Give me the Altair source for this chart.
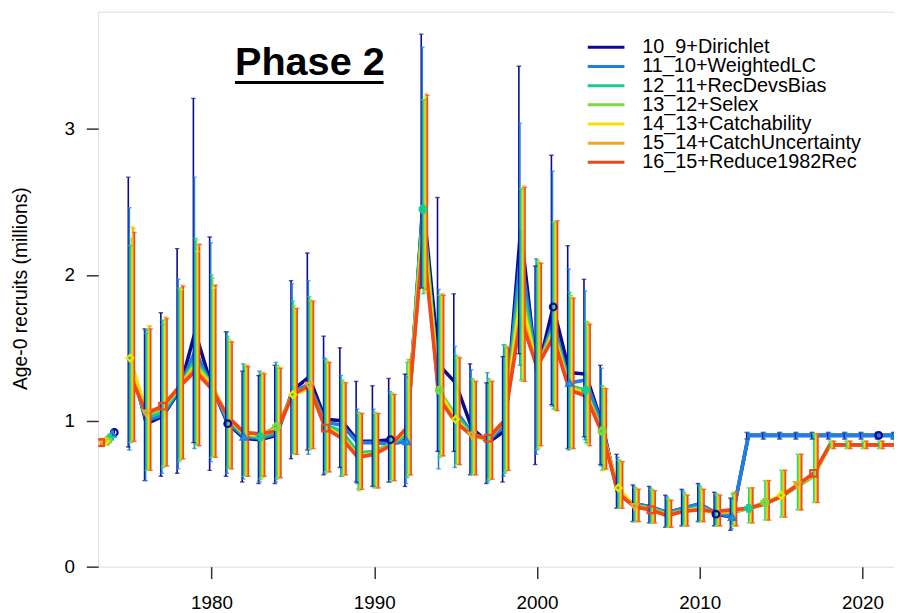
import altair as alt
import pandas as pd

series = ["10_9+Dirichlet", "11_10+WeightedLC", "12_11+RecDevsBias", "13_12+Selex",
          "14_13+Catchability", "15_14+CatchUncertainty", "16_15+Reduce1982Rec"]
colors = ["#0b0b8f", "#1f7fe3", "#14cf8c", "#7ed83e", "#f2e400", "#f5a524", "#f0481c"]
shapes = ["circle", "triangle-up", "cross", "cross", "diamond", "triangle-down", "square"]
bar_offset = [-0.11, -0.047, 0.016, 0.079, 0.142, 0.205, 0.268]
years = list(range(1975, 2023))

# virgin / initial recruitment points
virgin_x = [1974.03, 1973.89, 1973.75, 1973.61, 1973.47, 1973.33, 1973.19]
virgin_val = [0.92, 0.91, 0.88, 0.86, 0.86, 0.85, 0.85]
virgin_lo = [0.89, 0.88, 0.85, 0.83, 0.83, 0.82, 0.82]
virgin_hi = [0.95, 0.94, 0.91, 0.89, 0.89, 0.88, 0.88]

s10_val = [1.42, 0.98, 1.03, 1.20, 1.61, 1.24, 0.98, 0.88, 0.87, 0.90,
           1.21, 1.30, 1.01, 1.00, 0.86, 0.86, 0.87, 0.88, 2.50, 1.38,
           1.26, 0.95, 0.85, 0.93, 2.31, 1.32, 1.78, 1.33, 1.32, 0.98,
           0.49, 0.43, 0.41, 0.37, 0.40, 0.43, 0.36, 0.34, 0.90, 0.90,
           0.90, 0.90, 0.90, 0.90, 0.90, 0.90, 0.90, 0.90]
s10_lo = [0.82, 0.59, 0.62, 0.64, 0.85, 0.66, 0.62, 0.58, 0.57, 0.57,
          0.74, 0.80, 0.63, 0.68, 0.58, 0.55, 0.58, 0.55, 1.91, 0.79,
          0.79, 0.63, 0.57, 0.58, 1.46, 0.70, 1.11, 0.81, 0.89, 0.70,
          0.40, 0.31, 0.30, 0.27, 0.28, 0.31, 0.28, 0.25, 0.875, 0.875,
          0.875, 0.875, 0.875, 0.875, 0.875, 0.875, 0.875, 0.875]
s10_hi = [2.67, 1.63, 1.74, 2.18, 3.21, 2.26, 1.61, 1.34, 1.31, 1.38,
          1.96, 2.15, 1.58, 1.50, 1.27, 1.24, 1.29, 1.32, 3.65, 2.53,
          1.87, 1.39, 1.26, 1.44, 3.43, 2.06, 2.82, 2.20, 1.97, 1.38,
          0.77, 0.56, 0.55, 0.49, 0.53, 0.57, 0.51, 0.47, 0.92, 0.92,
          0.92, 0.92, 0.92, 0.92, 0.92, 0.92, 0.92, 0.92]

s11_val = [1.38, 1.00, 1.04, 1.21, 1.48, 1.24, 0.99, 0.89, 0.88, 0.91,
           1.20, 1.25, 0.99, 0.97, 0.85, 0.85, 0.84, 0.86, 2.48, 1.10,
           1.07, 0.92, 0.86, 0.97, 2.15, 1.34, 1.68, 1.26, 1.28, 0.97,
           0.49, 0.43, 0.41, 0.37, 0.40, 0.43, 0.37, 0.34, 0.90, 0.90,
           0.90, 0.90, 0.90, 0.90, 0.90, 0.90, 0.90, 0.90]
s11_lo = [0.80, 0.59, 0.64, 0.67, 0.81, 0.72, 0.64, 0.60, 0.58, 0.58,
          0.77, 0.77, 0.64, 0.62, 0.57, 0.55, 0.58, 0.57, 1.91, 0.67,
          0.68, 0.63, 0.58, 0.62, 1.38, 0.77, 1.10, 0.80, 0.87, 0.69,
          0.40, 0.31, 0.30, 0.27, 0.28, 0.31, 0.28, 0.26, 0.875, 0.875,
          0.875, 0.875, 0.875, 0.875, 0.875, 0.875, 0.875, 0.875]
s11_hi = [2.46, 1.62, 1.69, 1.97, 2.67, 2.22, 1.61, 1.39, 1.34, 1.40,
          1.94, 1.96, 1.43, 1.31, 1.08, 1.08, 1.20, 1.30, 3.56, 1.90,
          1.51, 1.35, 1.33, 1.52, 3.04, 2.11, 2.71, 2.04, 1.89, 1.36,
          0.75, 0.55, 0.54, 0.48, 0.52, 0.56, 0.50, 0.46, 0.92, 0.92,
          0.92, 0.92, 0.92, 0.92, 0.92, 0.92, 0.92, 0.92]

s12_val = [1.36, 1.02, 1.06, 1.22, 1.42, 1.25, 1.01, 0.90, 0.89, 0.93,
           1.19, 1.24, 0.97, 0.93, 0.78, 0.79, 0.84, 0.90, 2.45, 1.20,
           1.04, 0.91, 0.87, 0.99, 2.00, 1.35, 1.64, 1.24, 1.21, 0.94,
           0.50, 0.42, 0.40, 0.36, 0.39, 0.41, 0.37, 0.37, 0.40, 0.43,
           0.48, 0.55, 0.62, 0.835, 0.835, 0.835, 0.835, 0.835]
s12_lo = [0.85, 0.66, 0.68, 0.72, 0.84, 0.75, 0.68, 0.62, 0.60, 0.60,
          0.77, 0.80, 0.65, 0.62, 0.53, 0.54, 0.59, 0.61, 1.87, 0.75,
          0.70, 0.63, 0.59, 0.64, 1.28, 0.80, 1.08, 0.81, 0.85, 0.66,
          0.40, 0.31, 0.30, 0.27, 0.28, 0.31, 0.28, 0.28, 0.30, 0.32,
          0.34, 0.39, 0.44, 0.81, 0.81, 0.81, 0.81, 0.81]
s12_hi = [2.20, 1.60, 1.66, 1.91, 2.25, 2.00, 1.58, 1.38, 1.33, 1.38,
          1.82, 1.85, 1.42, 1.28, 1.06, 1.06, 1.19, 1.40, 3.20, 1.86,
          1.45, 1.29, 1.29, 1.52, 2.59, 2.10, 2.36, 1.88, 1.68, 1.24,
          0.73, 0.54, 0.53, 0.47, 0.51, 0.55, 0.50, 0.50, 0.54, 0.59,
          0.66, 0.77, 0.91, 0.86, 0.86, 0.86, 0.86, 0.86]

s13_val = [1.38, 1.04, 1.08, 1.22, 1.39, 1.25, 1.02, 0.91, 0.90, 0.96,
           1.18, 1.23, 0.96, 0.90, 0.76, 0.78, 0.84, 0.93, 2.40, 1.21,
           1.02, 0.90, 0.87, 1.00, 1.90, 1.36, 1.62, 1.23, 1.20, 0.93,
           0.51, 0.42, 0.40, 0.36, 0.38, 0.40, 0.37, 0.38, 0.40, 0.44,
           0.48, 0.55, 0.62, 0.835, 0.835, 0.835, 0.835, 0.835]
s13_lo = [0.85, 0.66, 0.69, 0.73, 0.83, 0.75, 0.67, 0.62, 0.61, 0.61,
          0.77, 0.81, 0.65, 0.63, 0.52, 0.54, 0.59, 0.62, 1.88, 0.76,
          0.70, 0.63, 0.60, 0.65, 1.27, 0.81, 1.08, 0.81, 0.84, 0.66,
          0.40, 0.31, 0.30, 0.27, 0.28, 0.31, 0.28, 0.28, 0.30, 0.32,
          0.34, 0.39, 0.44, 0.81, 0.81, 0.81, 0.81, 0.81]
s13_hi = [2.25, 1.63, 1.69, 1.90, 2.24, 1.98, 1.56, 1.38, 1.33, 1.37,
          1.79, 1.83, 1.41, 1.27, 1.05, 1.05, 1.19, 1.42, 3.20, 1.86,
          1.43, 1.28, 1.28, 1.51, 2.59, 2.09, 2.36, 1.86, 1.68, 1.23,
          0.73, 0.54, 0.53, 0.46, 0.50, 0.54, 0.49, 0.51, 0.54, 0.59,
          0.66, 0.77, 0.91, 0.86, 0.86, 0.86, 0.86, 0.86]

s14_val = [1.43, 1.06, 1.09, 1.23, 1.38, 1.24, 1.03, 0.91, 0.90, 0.94,
           1.18, 1.22, 0.96, 0.89, 0.76, 0.77, 0.83, 0.94, 2.32, 1.19,
           1.01, 0.89, 0.88, 1.00, 1.85, 1.36, 1.60, 1.22, 1.19, 0.92,
           0.54, 0.41, 0.39, 0.35, 0.38, 0.40, 0.37, 0.38, 0.40, 0.43,
           0.49, 0.56, 0.63, 0.835, 0.835, 0.835, 0.835, 0.835]
s14_lo = [0.86, 0.66, 0.69, 0.74, 0.83, 0.75, 0.67, 0.62, 0.61, 0.61,
          0.77, 0.81, 0.65, 0.63, 0.53, 0.54, 0.59, 0.63, 1.89, 0.76,
          0.70, 0.63, 0.60, 0.66, 1.27, 0.82, 1.07, 0.81, 0.84, 0.66,
          0.40, 0.31, 0.30, 0.27, 0.28, 0.31, 0.28, 0.28, 0.30, 0.32,
          0.34, 0.39, 0.44, 0.81, 0.81, 0.81, 0.81, 0.81]
s14_hi = [2.33, 1.65, 1.71, 1.90, 2.16, 1.91, 1.55, 1.38, 1.33, 1.37,
          1.77, 1.82, 1.40, 1.26, 1.05, 1.05, 1.18, 1.42, 3.22, 1.87,
          1.43, 1.27, 1.27, 1.51, 2.60, 2.09, 2.37, 1.85, 1.67, 1.23,
          0.72, 0.53, 0.52, 0.46, 0.49, 0.53, 0.49, 0.51, 0.54, 0.59,
          0.66, 0.77, 0.91, 0.86, 0.86, 0.86, 0.86, 0.86]

s15_val = [1.33, 1.05, 1.10, 1.23, 1.36, 1.23, 1.03, 0.92, 0.91, 0.93,
           1.18, 1.24, 0.95, 0.88, 0.75, 0.77, 0.83, 0.95, 2.26, 1.16,
           0.99, 0.90, 0.88, 1.00, 1.74, 1.37, 1.58, 1.21, 1.18, 0.92,
           0.51, 0.41, 0.39, 0.35, 0.38, 0.39, 0.37, 0.38, 0.40, 0.43,
           0.48, 0.56, 0.63, 0.835, 0.835, 0.835, 0.835, 0.835]
s15_lo = [0.86, 0.66, 0.69, 0.74, 0.83, 0.75, 0.67, 0.62, 0.62, 0.61,
          0.77, 0.81, 0.65, 0.63, 0.53, 0.54, 0.59, 0.63, 1.90, 0.76,
          0.70, 0.63, 0.60, 0.66, 1.27, 0.83, 1.07, 0.81, 0.83, 0.67,
          0.40, 0.31, 0.30, 0.27, 0.28, 0.31, 0.28, 0.28, 0.30, 0.32,
          0.34, 0.39, 0.44, 0.81, 0.81, 0.81, 0.81, 0.81]
s15_hi = [2.32, 1.65, 1.71, 1.93, 2.20, 1.93, 1.54, 1.38, 1.33, 1.36,
          1.77, 1.82, 1.40, 1.26, 1.05, 1.05, 1.18, 1.42, 3.24, 1.87,
          1.44, 1.27, 1.27, 1.51, 2.61, 2.08, 2.37, 1.84, 1.67, 1.22,
          0.72, 0.53, 0.52, 0.455, 0.49, 0.53, 0.49, 0.51, 0.54, 0.59,
          0.66, 0.77, 0.91, 0.86, 0.86, 0.86, 0.86, 0.86]

s16_val = [1.31, 1.05, 1.10, 1.23, 1.34, 1.22, 1.03, 0.92, 0.91, 0.93,
           1.18, 1.24, 0.95, 0.88, 0.75, 0.77, 0.83, 0.95, 2.24, 1.15,
           0.99, 0.90, 0.88, 1.00, 1.70, 1.37, 1.57, 1.21, 1.17, 0.92,
           0.50, 0.41, 0.39, 0.35, 0.38, 0.39, 0.38, 0.39, 0.40, 0.43,
           0.48, 0.56, 0.64, 0.835, 0.835, 0.835, 0.835, 0.835]
s16_lo = [0.86, 0.66, 0.69, 0.74, 0.83, 0.75, 0.67, 0.62, 0.62, 0.61,
          0.77, 0.81, 0.65, 0.63, 0.53, 0.54, 0.59, 0.63, 1.90, 0.76,
          0.70, 0.63, 0.60, 0.66, 1.27, 0.83, 1.07, 0.81, 0.83, 0.67,
          0.40, 0.31, 0.30, 0.27, 0.28, 0.31, 0.28, 0.28, 0.30, 0.32,
          0.34, 0.39, 0.44, 0.81, 0.81, 0.81, 0.81, 0.81]
s16_hi = [2.29, 1.63, 1.70, 1.92, 2.21, 1.93, 1.54, 1.37, 1.32, 1.36,
          1.77, 1.82, 1.40, 1.26, 1.05, 1.05, 1.18, 1.42, 3.23, 1.86,
          1.43, 1.27, 1.27, 1.50, 2.60, 2.08, 2.37, 1.84, 1.66, 1.22,
          0.72, 0.53, 0.52, 0.455, 0.49, 0.53, 0.49, 0.51, 0.54, 0.59,
          0.66, 0.77, 0.91, 0.86, 0.86, 0.86, 0.86, 0.86]

vals = [s10_val, s11_val, s12_val, s13_val, s14_val, s15_val, s16_val]
los = [s10_lo, s11_lo, s12_lo, s13_lo, s14_lo, s15_lo, s16_lo]
his = [s10_hi, s11_hi, s12_hi, s13_hi, s14_hi, s15_hi, s16_hi]

rows = []
for i, name in enumerate(series):
    for j, yr in enumerate(years):
        rows.append({"series": name, "year": yr, "xbar": yr + bar_offset[i],
                     "val": vals[i][j], "lo": los[i][j], "hi": his[i][j],
                     "pt": (yr - 1981 - i) % 10 == 0})
df = pd.DataFrame(rows)
vdf = pd.DataFrame({"series": series, "year": virgin_x, "val": virgin_val,
                    "lo": virgin_lo, "hi": virgin_hi})
leg = pd.DataFrame({"series": series, "row": list(range(len(series)))})

FONT = "Liberation Sans"
xs = alt.Scale(domain=[1973.04, 2021.94], nice=False, zero=False)
ys = alt.Scale(domain=[0, 3.804], nice=False, zero=True)
cs = alt.Scale(domain=series, range=colors)
ss = alt.Scale(domain=series, range=shapes)
xax = alt.Axis(values=[1980, 1990, 2000, 2010, 2020], format="d", title=None,
               labelFontSize=19, tickSize=12, labelPadding=15, grid=False, domain=False,
               tickColor="#333333", tickWidth=1.5, labelColor="black", labelFont=FONT)
yax = alt.Axis(values=[0, 1, 2, 3], title="Age-0 recruits (millions)", titleFontSize=19.5,
               titleFontWeight="normal", titleFont=FONT, titleColor="black",
               titleX=-72, titleY=279, titleAngle=-90, titleAlign="center",
               titleBaseline="alphabetic",
               labelFontSize=19, tickSize=12, labelPadding=12, grid=False, domain=False,
               tickColor="#333333", tickWidth=1.5, labelColor="black", labelFont=FONT)

col = alt.Color("series:N", scale=cs, legend=None)

lines = alt.Chart(df).mark_line(strokeWidth=3.6, clip=True).encode(
    x=alt.X("year:Q", scale=xs, axis=xax),
    y=alt.Y("val:Q", scale=ys, axis=yax),
    color=col, detail="series:N", order="year:Q")

bars = alt.Chart(df).mark_rule(strokeWidth=1.6, clip=True).encode(
    x=alt.X("xbar:Q", scale=xs, axis=xax),
    y=alt.Y("lo:Q", scale=ys, axis=yax), y2="hi:Q", color=col)

caps = alt.Chart(df).transform_fold(["lo", "hi"], as_=["k", "v"]).mark_tick(
    orient="horizontal", size=4.5, thickness=1.4, clip=True).encode(
    x=alt.X("xbar:Q", scale=xs, axis=xax),
    y=alt.Y("v:Q", scale=ys, axis=yax), color=col)

points = alt.Chart(df).transform_filter("datum.pt").mark_point(
    filled=False, strokeWidth=2.2, size=45, clip=True, opacity=1).encode(
    x=alt.X("year:Q", scale=xs, axis=xax),
    y=alt.Y("val:Q", scale=ys, axis=yax), color=col,
    shape=alt.Shape("series:N", scale=ss, legend=None))

vpoints = alt.Chart(vdf).mark_point(filled=False, strokeWidth=2.2, size=45, clip=True, opacity=1).encode(
    x=alt.X("year:Q", scale=xs, axis=xax),
    y=alt.Y("val:Q", scale=ys, axis=yax), color=col,
    shape=alt.Shape("series:N", scale=ss, legend=None))

vbars = alt.Chart(vdf).mark_rule(strokeWidth=1.6, clip=True).encode(
    x=alt.X("year:Q", scale=xs, axis=xax),
    y=alt.Y("lo:Q", scale=ys, axis=yax), y2="hi:Q", color=col)

data_layer = alt.layer(lines, bars, caps, points, vbars, vpoints)

lscale = alt.Scale(domain=[0, 6], range=[36, 152])
leg_rules = alt.Chart(leg).mark_rule(strokeWidth=3).encode(
    x=alt.value(494), x2=alt.value(531),
    y=alt.Y("row:Q", scale=lscale, axis=None), color=col)
leg_text = alt.Chart(leg).mark_text(align="left", baseline="middle", fontSize=20,
                                    font=FONT, color="black").encode(
    x=alt.value(549), y=alt.Y("row:Q", scale=lscale, axis=None), text="series:N")

ttl = pd.DataFrame({"t": ["Phase 2"]})
title_text = alt.Chart(ttl).mark_text(align="left", baseline="alphabetic", fontSize=40,
                                      font=FONT, fontWeight="bold",
                                      color="black").encode(
    x=alt.value(138), y=alt.value(64), text="t:N")
underline = alt.Chart(ttl).mark_rule(strokeWidth=3, color="black").encode(
    x=alt.value(138), x2=alt.value(288), y=alt.value(71.5))

annot_layer = alt.layer(leg_rules, leg_text, title_text, underline)

chart = alt.layer(data_layer, annot_layer).resolve_scale(y="independent").properties(
    width=803, height=560,
    autosize=alt.AutoSizeParams(type="none"),
    padding={"left": 91, "top": 1, "right": 0, "bottom": 40},
    background="white",
).configure_view(stroke="#4d4d4d", strokeWidth=2.5).configure(font=FONT)

chart.save("out.html", embed_options={"renderer": "svg", "actions": False})
